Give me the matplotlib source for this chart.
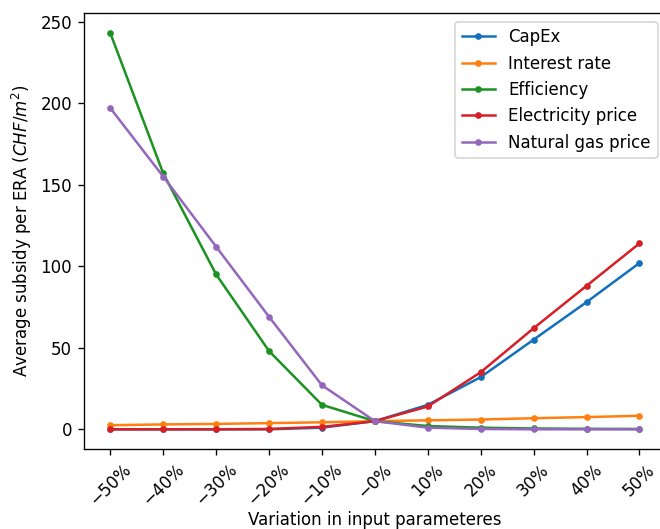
import numpy as np
import matplotlib
matplotlib.use("Agg")
import matplotlib.pyplot as plt

variations = ["\u221250%", "\u221240%", "\u221230%", "\u221220%", "\u221210%", "\u22120%",
              "10%", "20%", "30%", "40%", "50%"]

capex = [0, 0, 0, 0, 1, 5, 15, 32, 55, 78, 102]
interest_rate = [2.5, 3, 3.3, 3.8, 4.3, 5, 5.5, 6, 6.8, 7.5, 8.3]
efficiency = [243, 157, 95, 48, 15, 5, 2, 1, 0.5, 0.3, 0.2]
electricity_price = [0, 0, 0, 0.2, 1.5, 5, 14, 35, 62, 88, 114]
gas_price = [197, 155, 112, 69, 27, 5, 1, 0.2, 0, 0, 0]

# rendered at 120 dpi so text and lines come out a bit larger
fig, ax = plt.subplots(figsize=(5.5, 529 / 120), dpi=120)
x = np.arange(len(variations))
ax.plot(x, capex, marker=".", label="CapEx", color="#1370bd")
ax.plot(x, interest_rate, marker=".", label="Interest rate", color="#ff8010")
ax.plot(x, efficiency, marker=".", label="Efficiency", color="#1c9222")
ax.plot(x, electricity_price, marker=".", label="Electricity price", color="#d71f26")
ax.plot(x, gas_price, marker=".", label="Natural gas price", color="#9467bd")

ax.set_xticks(x)
ax.set_xticklabels(variations, rotation=45)
ax.set_xlabel("Variation in input parameteres", labelpad=1)
ax.set_ylabel("Average subsidy per ERA ($CHF/m^2$)")
ax.legend(loc="upper right")

# the original is cropped a little on the right edge
fig.subplots_adjust(left=0.127, right=1.009, top=0.975, bottom=0.151)
fig.savefig("out.png")
